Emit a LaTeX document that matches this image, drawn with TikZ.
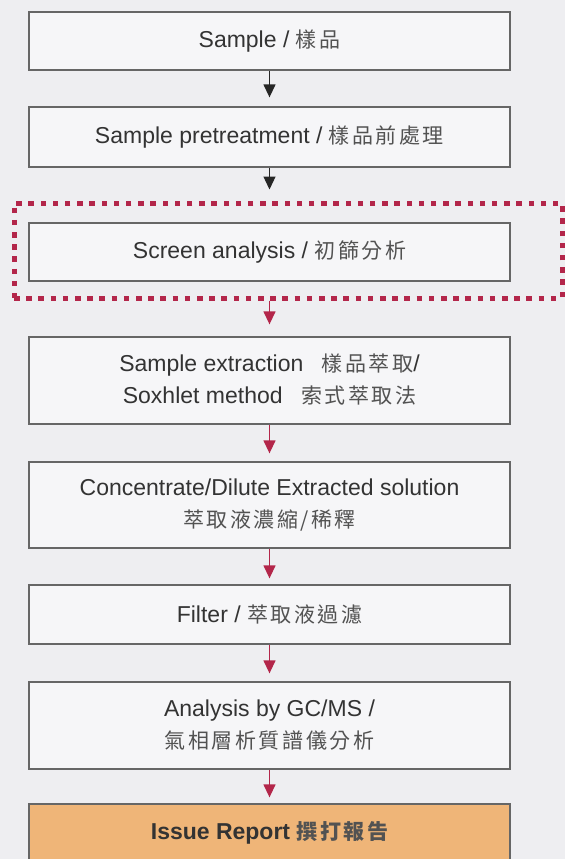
\documentclass[tikz,border=0pt]{standalone}
\usepackage{fontspec}
\setmainfont{Liberation Sans}
\newfontfamily\cjk[LetterSpace=12]{Noto Sans CJK TC}
\usetikzlibrary{arrows.meta}
\definecolor{bgc}{HTML}{EEEEF1}
\definecolor{boxfill}{HTML}{F6F6F8}
\definecolor{boxline}{HTML}{666666}
\definecolor{txt}{HTML}{333333}
\definecolor{crim}{HTML}{B3264A}
\definecolor{orangefill}{HTML}{EFB578}
\newcommand{\zh}[1]{{\cjk\fontsize{21}{32}\selectfont\color{txt!85}#1}}
\begin{document}
\begin{tikzpicture}[x=1pt,y=-1pt,
  flowbox/.style={draw=boxline, line width=1.3pt, fill=boxfill, minimum width=481pt,
    inner sep=0pt, align=center, text=txt, font=\fontsize{23}{32}\selectfont},
  reportbox/.style={flowbox, fill=orangefill, font=\bfseries\fontsize{23}{32}\selectfont},
  dotframe/.style={draw=crim, line width=5pt, dash pattern=on 5.5pt off 6.7pt,
    minimum width=548pt, minimum height=95pt, inner sep=0pt},
  blackarrow/.style={draw=black!85, line width=1.3pt,
    -{Triangle[length=13pt,width=12pt]}, shorten >=9pt},
  redarrow/.style={draw=crim, line width=1.3pt,
    -{Triangle[length=13pt,width=12pt]}, shorten >=8pt}
]
\useasboundingbox (0,0) rectangle (565,859);
\fill[bgc] (0,0) rectangle (565,859);

\node[flowbox, minimum height=58pt] (n1) at (269.5,41) {Sample / \zh{樣品}};
\node[flowbox, minimum height=60pt] (n2) at (269.5,137) {Sample pretreatment / \zh{樣品前處理}};
\node[dotframe] (frame) at (288,250.5) {};
\node[flowbox, minimum height=58pt] (n3) at (269.5,252) {Screen analysis / \zh{初篩分析}};
\node[flowbox, minimum height=87pt, text depth=4pt] (n4) at (269.5,380.5) {Sample extraction \hspace{12pt}\zh{樣品萃取}/\\Soxhlet method \hspace{12pt}\zh{索式萃取法}};
\node[flowbox, minimum height=86pt] (n5) at (269.5,505) {Concentrate/Dilute Extracted solution\\\zh{萃取液濃縮/稀釋}};
\node[flowbox, minimum height=59pt] (n6) at (269.5,614.5) {Filter / \zh{萃取液過濾}};
\node[flowbox, minimum height=87pt] (n7) at (269.5,725.5) {Analysis by GC/MS /\\\zh{氣相層析質譜儀分析}};
\node[reportbox, minimum height=58pt] (n8) at (269.5,833) {Issue Report \zh{\bfseries 撰打報告}};

\draw[blackarrow] (n1.south) -- (n2.north);
\draw[blackarrow, shorten >=11pt] (n2.south) -- (n2.south |- frame.north);
\draw[redarrow, shorten >=12pt] (n2.south |- frame.south) -- (n4.north);
\draw[redarrow] (n4.south) -- (n5.north);
\draw[redarrow, shorten >=6pt] (n5.south) -- (n6.north);
\draw[redarrow] (n6.south) -- (n7.north);
\draw[redarrow, shorten >=6pt] (n7.south) -- (n8.north);
\end{tikzpicture}
\end{document}
